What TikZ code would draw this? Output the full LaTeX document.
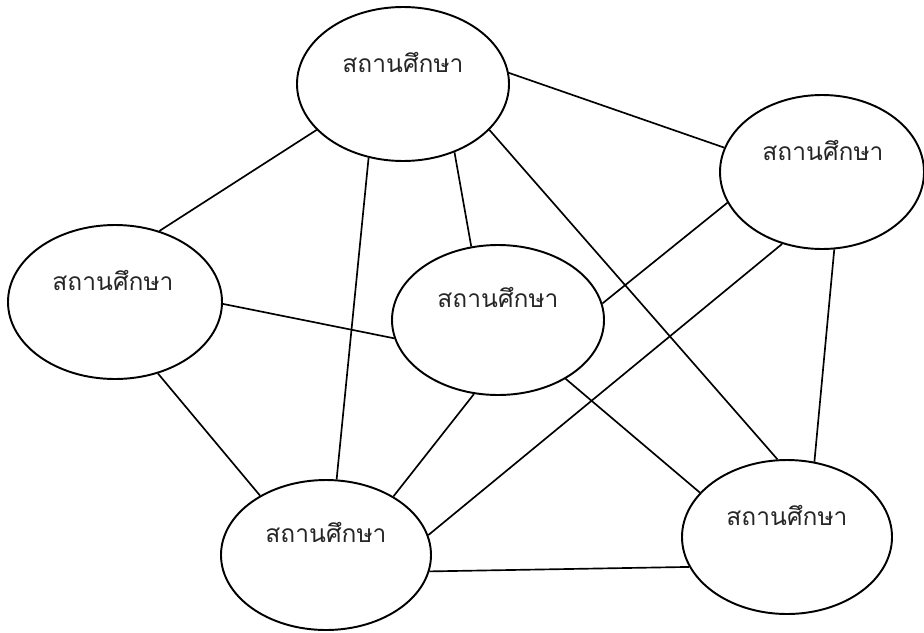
\documentclass[tikz,border=0pt]{standalone}
\usepackage{fontspec}
\newfontfamily\thaifont[Script=Thai]{Loma}
\usetikzlibrary{shapes.geometric,calc}
\tikzset{
  site/.style={ellipse, draw, line width=1.1pt, inner sep=0pt},
  lbl/.style={font=\thaifont\fontsize{14}{16}\selectfont, text=black!85, inner sep=0pt, anchor=base},
  link/.style={line width=0.95pt}
}
\begin{document}
\begin{tikzpicture}
\useasboundingbox (0,0) rectangle (18.48,-12.64);
% the six schools
\node[site, minimum width=4.24cm, minimum height=3.08cm] (T)  at (8.06,-1.68)   {};
\node[site, minimum width=4.08cm, minimum height=3.08cm] (R)  at (16.44,-3.44)  {};
\node[site, minimum width=4.28cm, minimum height=3.08cm] (L)  at (2.30,-6.04)   {};
\node[site, minimum width=4.24cm, minimum height=3.00cm] (C)  at (9.96,-6.40)   {};
\node[site, minimum width=4.20cm, minimum height=3.00cm] (B)  at (6.52,-11.10)  {};
\node[site, minimum width=4.20cm, minimum height=3.08cm] (BR) at (15.74,-10.74) {};
% their names, set in the upper half of each ellipse
\node[lbl] (tT)  at ($(T.center)+(0,0.24)$)     {สถานศึกษา};
\node[lbl] (tR)  at ($(R.center)+(0.02,0.24)$)  {สถานศึกษา};
\node[lbl] (tL)  at ($(L.center)+(-0.04,0.24)$) {สถานศึกษา};
\node[lbl] (tC)  at ($(C.center)+(0,0.26)$)     {สถานศึกษา};
\node[lbl] (tB)  at ($(B.center)+(0,0.26)$)     {สถานศึกษา};
\node[lbl] (tBR) at ($(BR.center)+(0,0.24)$)    {สถานศึกษา};
% links between schools
\draw[link] (T.6.5)   -- (R.166.8);
\draw[link] (T.208.1) -- (L.58.1);
\draw[link] (T.245.6) -- (B.82.9);
\draw[link] (T.307.4) -- (C.110.5);
\draw[link] (T.332.4) -- (BR.97);
\draw[link] (L.359.5) -- (C.190.8);
\draw[link] (L.301.6) -- (B.138.2);
\draw[link] (R.198.9) -- (C.9.6);
\draw[link] (R.241.2) -- (B.11.7);
\draw[link] (R.279)   -- (BR.70.5);
\draw[link] (C.252.5) -- (B.41.8);
\draw[link] (C.319)   -- (BR.153.2);
\draw[link] (B.351.4) -- (BR.197.9);
\end{tikzpicture}
\end{document}
